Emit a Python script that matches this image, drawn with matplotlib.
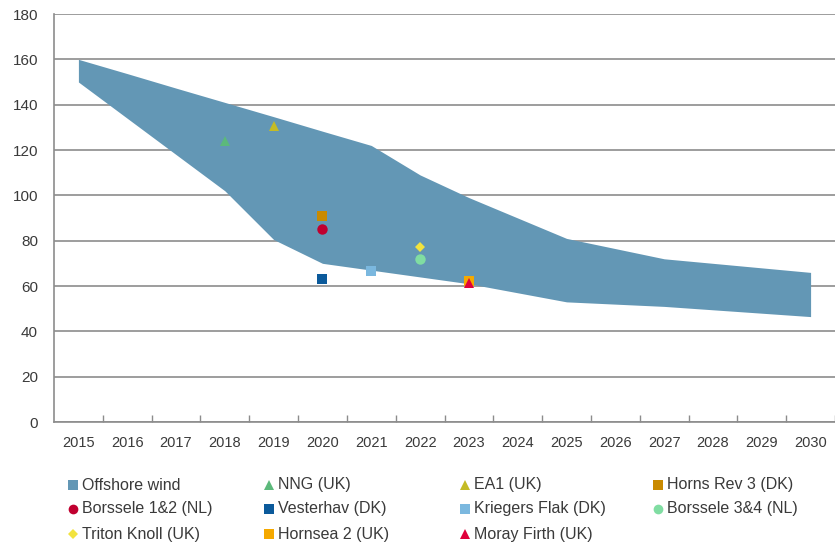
import matplotlib.pyplot as plt
from matplotlib.lines import Line2D

plt.rcParams['font.family'] = ['Liberation Sans', 'DejaVu Sans']

# data
years = list(range(2015, 2031))
band_upper = [160, 153.7, 147.3, 141, 134.7, 128.3, 122, 109, 99, 90, 81, 76.5, 72, 70, 68, 66]
band_lower = [150, 134, 118, 102, 80.5, 70, 67, 64, 61, 57, 53, 52, 51, 49.5, 48, 46.5]

projects = ['NNG (UK)', 'EA1 (UK)', 'Horns Rev 3 (DK)', 'Borssele 1&2 (NL)', 'Vesterhav (DK)',
            'Kriegers Flak (DK)', 'Borssele 3&4 (NL)', 'Triton Knoll (UK)', 'Hornsea 2 (UK)',
            'Moray Firth (UK)']
project_year = [2018, 2019, 2020, 2020, 2020, 2021, 2022, 2022, 2023, 2023]
project_value = [124, 130.5, 91, 85, 63, 66.5, 72, 77, 62, 61.5]
project_marker = ['^', '^', 's', 'o', 's', 's', 'o', 'D', 's', '^']
project_color = ['#5cb97b', '#c4bb25', '#c98a00', '#c0002f', '#0b5a9b', '#7bb8df',
                 '#80dda2', '#f2e33e', '#f5a900', '#e0003b']
project_size = [7.5, 7.5, 7.5, 7.5, 7, 7.5, 7.5, 5.5, 7.5, 7.5]

band_color = '#6397b5'
grid_color = '#8c8c8c'
text_color = '#3a3a3a'

fig = plt.figure(figsize=(8.35, 5.48), dpi=100)
ax = fig.add_axes([54 / 835, 1 - 422 / 548, 1 - 54 / 835, 408 / 548])

x = list(range(len(years)))
ax.fill_between(x, band_lower, band_upper, color=band_color, lw=0, zorder=2)

for yr, v, m, c, s in zip(project_year, project_value, project_marker, project_color, project_size):
    ax.plot(years.index(yr), v, marker=m, color=c, markersize=s, ls='none', zorder=3,
            markeredgewidth=0)

ax.set_ylim(0, 180)
ax.set_yticks(range(0, 181, 20))
ax.set_xlim(-0.5, -0.5 + 781 / 49.3)
ax.set_xticks(x)
ax.set_xticklabels([str(y) for y in years])
ax.set_xticks([i + 0.5 for i in x], minor=True)
ax.tick_params(axis='x', which='major', length=0, pad=10, labelsize=10.5, colors=text_color)
ax.tick_params(axis='x', which='minor', direction='in', length=5, width=1, color=grid_color)
ax.tick_params(axis='y', length=0, pad=11.5, labelsize=11, colors=text_color)

ax.grid(axis='y', color=grid_color, lw=1.2, zorder=0)
ax.set_axisbelow(True)
for side in ['top', 'right']:
    ax.spines[side].set_visible(False)
for side in ['left', 'bottom']:
    ax.spines[side].set_color(grid_color)
    ax.spines[side].set_linewidth(1.2)

# legend laid out row by row like the original
legend_labels = ['Offshore wind'] + projects
legend_markers = ['s'] + project_marker
legend_colors = [band_color] + project_color
col_x = [73, 269, 465, 658]
row_y = [485, 509, 534]
for i, (lab, m, c) in enumerate(zip(legend_labels, legend_markers, legend_colors)):
    r, col = divmod(i, 4)
    fx = col_x[col] / 835
    fy = 1 - row_y[r] / 548
    ms = 5.5 if m == 'D' else 7
    fig.add_artist(Line2D([fx], [fy], marker=m, color=c, markersize=ms, ls='none',
                          markeredgewidth=0, transform=fig.transFigure))
    fig.text(fx + 9 / 835, fy, lab, va='center', ha='left', fontsize=11.5, color=text_color)

fig.savefig('out.png', dpi=100)
